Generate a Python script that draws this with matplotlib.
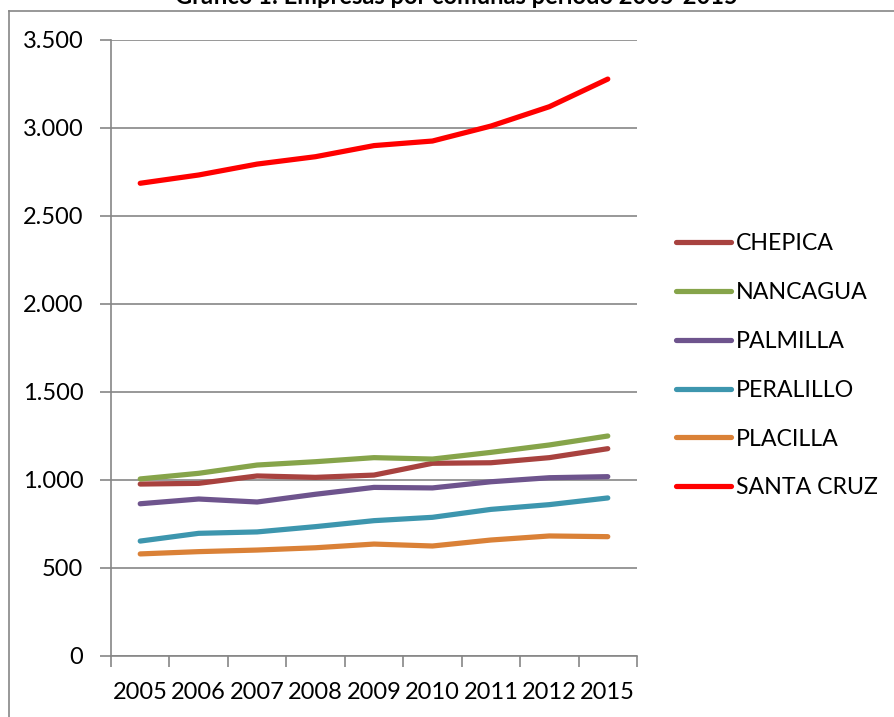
import matplotlib
matplotlib.use('Agg')
import matplotlib.pyplot as plt
from matplotlib.lines import Line2D
from matplotlib.ticker import FuncFormatter

# empresas por comuna
years = ['2005', '2006', '2007', '2008', '2009', '2010', '2011', '2012', '2015']
chepica = [977, 981, 1023, 1015, 1028, 1095, 1098, 1127, 1178]
nancagua = [1006, 1038, 1085, 1104, 1127, 1119, 1157, 1199, 1250]
palmilla = [865, 892, 875, 919, 958, 955, 990, 1013, 1019]
peralillo = [653, 697, 705, 735, 769, 788, 833, 860, 898]
placilla = [580, 593, 602, 615, 636, 625, 659, 682, 678]
santa_cruz = [2686, 2733, 2795, 2837, 2900, 2926, 3011, 3121, 3278]

names = ['CHEPICA', 'NANCAGUA', 'PALMILLA', 'PERALILLO', 'PLACILLA', 'SANTA CRUZ']
colors = ['#A8423F', '#86A44A', '#6E548D', '#3D96AE', '#DA8137', '#FF0000']
title = 'Gráfico 1: Empresas por comunas período 2005-2015'

GRAY = '#868686'

plt.rcParams['font.family'] = ['Lato', 'DejaVu Sans']

fig = plt.figure(figsize=(8.94, 7.17), dpi=100)
ax = fig.add_axes([111 / 894, 1 - 656 / 717, 526 / 894, 616 / 717])

all_series = [chepica, nancagua, palmilla, peralillo, placilla, santa_cruz]
for name, vals, col in zip(names, all_series, colors):
    ax.plot(years, vals, color=col, lw=3.75, label=name,
            solid_capstyle='round', solid_joinstyle='round')

ax.set_xlim(-0.5, len(years) - 0.5)
ax.set_ylim(0, 3500)
ax.set_yticks(range(0, 3501, 500))
ax.yaxis.set_major_formatter(FuncFormatter(lambda v, p: f'{int(v):,}'.replace(',', '.')))

ax.grid(axis='y', color=GRAY, lw=1.2)
ax.set_axisbelow(True)
for s in ['top', 'right']:
    ax.spines[s].set_visible(False)
for s in ['left', 'bottom']:
    ax.spines[s].set_color(GRAY)
    ax.spines[s].set_linewidth(1.2)

ax.tick_params(axis='y', length=8, width=1.2, color=GRAY, pad=12, labelsize=17)
ax.tick_params(axis='x', which='major', length=0, pad=19, labelsize=17)
ax.set_xticks([i - 0.5 for i in range(len(years) + 1)], minor=True)
ax.tick_params(axis='x', which='minor', length=8, width=1.2, color=GRAY)

ax.legend(loc='center left', bbox_to_anchor=(1.074, 0.471), frameon=False,
          fontsize=16.7, handlelength=2.37, handletextpad=0.21,
          labelspacing=1.2, borderpad=0, borderaxespad=0)

# titulo cortado arriba
fig.text(456 / 894, 1 - 4 / 717, title, ha='center', va='baseline',
         fontsize=17, fontweight='bold')

# borde del area del grafico
fig.add_artist(Line2D([9 / 894, 9 / 894], [0, 1 - 11 / 717],
                      transform=fig.transFigure, color=GRAY, lw=1.2))
fig.add_artist(Line2D([9 / 894, 1], [1 - 11 / 717, 1 - 11 / 717],
                      transform=fig.transFigure, color=GRAY, lw=1.2))

fig.savefig('out.png', dpi=100)
